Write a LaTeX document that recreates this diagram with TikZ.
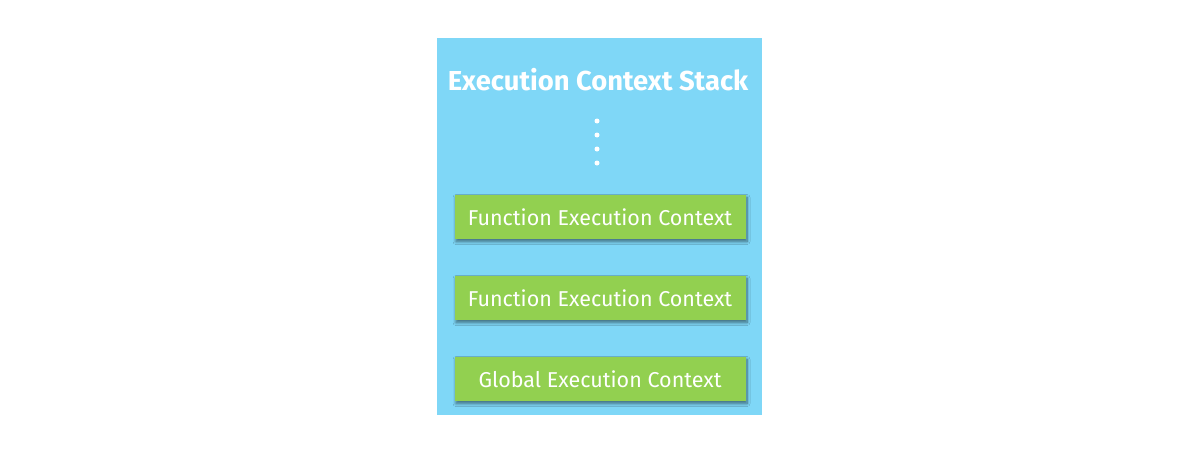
\documentclass[tikz,border=0pt]{standalone}
\usepackage{fontspec}
\setmainfont{Fira Sans}
\usetikzlibrary{shadows.blur}
\definecolor{stackblue}{RGB}{127,215,247}
\definecolor{ctxgreen}{RGB}{146,208,80}

\begin{document}
\begin{tikzpicture}[x=1pt,y=-1pt,node distance=81pt,
                    font=\fontsize{21.5}{26}\selectfont]
    \tikzset{ctx/.style={rectangle,fill=ctxgreen,text=white,minimum width=291pt,
             minimum height=44pt,inner sep=0pt,
             blur shadow={shadow xshift=1.5pt,shadow yshift=-2.5pt,shadow blur radius=3pt,shadow blur steps=8,shadow opacity=50}},
             dot/.style={circle,fill=white,inner sep=0pt,minimum size=5pt}}
    \useasboundingbox (0,0) rectangle (1200,450);
    \node[rectangle,fill=stackblue,minimum width=325pt,minimum height=377pt,inner sep=0pt] (stack) at (599.5,226.5) {};
    \node[text=white,font=\fontsize{27.4}{32}\selectfont\bfseries] (title) at (598,80) {Execution Context Stack};
    \foreach \y in {121,135,149,163}
        \node[dot] (d\y) at (597,\y) {};
    \node[ctx] (fn2) at (600,217) {Function Execution Context};
    \node[ctx] (fn1) [below of=fn2] {Function Execution Context};
    \node[ctx] (global) [below of=fn1] {Global Execution Context};
\end{tikzpicture}
\end{document}
